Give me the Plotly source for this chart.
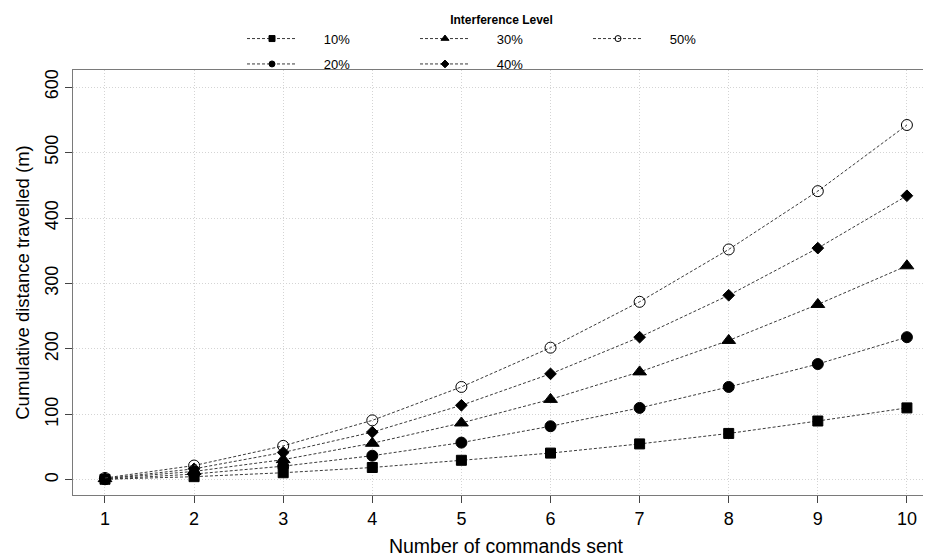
import plotly.graph_objects as go

commands = [1, 2, 3, 4, 5, 6, 7, 8, 9, 10]
levels = ["10%", "20%", "30%", "40%", "50%"]
dist_10 = [1, 5, 11, 19, 30, 41, 55, 71, 90, 110]
dist_20 = [1, 9, 21, 37, 57, 82, 110, 142, 177, 218]
dist_30 = [2, 13, 31, 56, 87, 123, 165, 213, 268, 327]
dist_40 = [2, 17, 42, 73, 114, 162, 218, 282, 354, 434]
dist_50 = [3, 22, 52, 91, 142, 202, 272, 352, 441, 542]
y_ticks = [0, 100, 200, 300, 400, 500, 600]

series = [dist_10, dist_20, dist_30, dist_40, dist_50]
symbols = ["square", "circle", "triangle-up", "diamond", "circle-open"]
sizes = [10, 11, 12, 9, 11]
legend_sizes = [6, 6, 7, 6, 6]
legend_ids = ["legend", "legend2", "legend", "legend2", "legend"]

line_style = dict(color="#3a3a3a", width=1, dash="3px,2px")

fig = go.Figure()
for name, vals, sym, sz in zip(levels, series, symbols, sizes):
    fig.add_trace(go.Scatter(
        x=commands, y=vals, name=name, legendgroup=name,
        mode="lines+markers", line=line_style, showlegend=False,
        marker=dict(symbol=sym, size=sz, color="black",
                    line=dict(color="black", width=1)),
    ))
# legend entries (smaller symbols, as in the reference legend)
for name, sym, lsz, lg in zip(levels, symbols, legend_sizes, legend_ids):
    fig.add_trace(go.Scatter(
        x=[None], y=[None], name="\u00a0" * 6 + name, legendgroup=name,
        mode="lines+markers", line=line_style,
        marker=dict(symbol=sym, size=lsz, color="black",
                    line=dict(color="black", width=1)),
        legend=lg, showlegend=True,
    ))

font = "Liberation Sans, Arial, sans-serif"
frame = "#7a7a7a"
grid = "#d4d4d4"
fig.update_layout(
    width=931, height=560,
    margin=dict(l=65, r=0, t=62, b=73, autoexpand=False),
    paper_bgcolor="white", plot_bgcolor="white",
    font=dict(family=font, color="black"),
    showlegend=True,
    legend=dict(
        orientation="h", xref="container", yref="container",
        x=234 / 931, y=1, xanchor="left", yanchor="top",
        entrywidth=108, itemwidth=50,
        font=dict(size=13, family=font),
        title=dict(text="<b>Interference Level</b>", side="top center",
                   font=dict(size=12, family=font)),
        bgcolor="rgba(0,0,0,0)",
    ),
    legend2=dict(
        orientation="h", xref="container", yref="container",
        x=234 / 931, y=1 - 41 / 560, xanchor="left", yanchor="top",
        entrywidth=108, itemwidth=50,
        font=dict(size=13, family=font),
        bgcolor="rgba(0,0,0,0)",
    ),
    xaxis=dict(
        range=[0.641, 10.36], tickvals=commands,
        ticks="outside", ticklen=7, tickcolor="#444", tickwidth=1,
        showline=True, linecolor=frame, linewidth=1, mirror=True,
        showgrid=True, gridcolor=grid, griddash="1px,2px", gridwidth=1,
        zeroline=False,
        tickfont=dict(size=18, family=font),
        title=dict(text="Number of commands sent", font=dict(size=19.5, family=font), standoff=11),
    ),
    yaxis=dict(
        range=[-23, 626], tickvals=y_ticks, tickangle=-90,
        ticks="outside", ticklen=7, tickcolor="#444", tickwidth=1,
        showline=True, linecolor=frame, linewidth=1,
        showgrid=True, gridcolor=grid, griddash="1px,2px", gridwidth=1,
        zeroline=False,
        tickfont=dict(size=18, family=font),
        title=dict(text="Cumulative distance travelled (m)", font=dict(size=18.5, family=font), standoff=7),
    ),
)

fig.write_html("out.html")
